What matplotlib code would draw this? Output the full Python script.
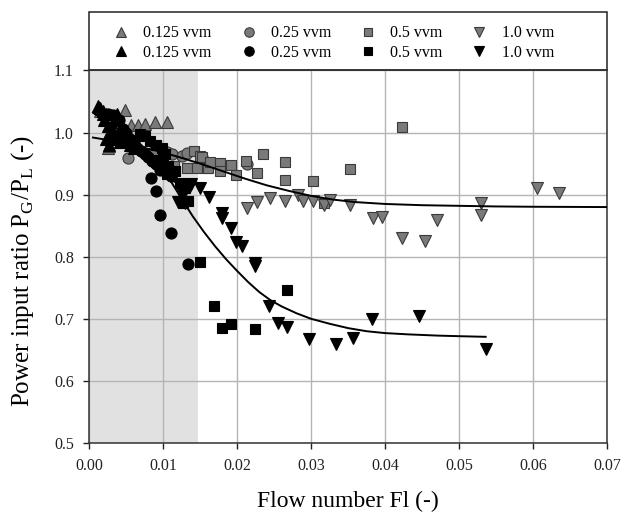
import numpy as np
import matplotlib.pyplot as plt
from matplotlib.patches import Rectangle

# ---- data ----
tri_grey_x = [0.0015, 0.0025, 0.0026, 0.003, 0.004, 0.0048, 0.0057, 0.0066, 0.0076, 0.0089, 0.0105]
tri_grey_y = [1.035, 0.975, 0.978, 0.99, 1.0, 1.037, 1.012, 1.012, 1.014, 1.017, 1.017]

tri_black_x = [0.0012, 0.0014, 0.0018, 0.0019, 0.002, 0.0022, 0.0022, 0.0025, 0.0027, 0.0028, 0.003,
               0.0032, 0.0035, 0.0038, 0.004, 0.0042, 0.0045, 0.005, 0.0055, 0.006]
tri_black_y = [1.042, 1.04, 1.03, 1.034, 1.02, 1.03, 0.99, 1.01, 0.98, 1.0, 1.01,
               0.99, 1.02, 1.03, 1.0, 0.985, 0.995, 0.99, 0.98, 0.975]

circ_grey_x = [0.0053, 0.0087, 0.0105, 0.0112, 0.0125, 0.0132, 0.0152, 0.0213]
circ_grey_y = [0.959, 0.970, 0.968, 0.965, 0.962, 0.967, 0.961, 0.949]

circ_black_x = [0.0025, 0.0032, 0.0035, 0.004, 0.0045, 0.0045, 0.005, 0.0055, 0.006, 0.0065, 0.007,
                0.0075, 0.008, 0.0085, 0.009, 0.0095, 0.011, 0.0084, 0.009, 0.0096, 0.0111, 0.0134]
circ_black_y = [1.03, 1.028, 0.995, 1.02, 1.005, 0.985, 1.0, 0.99, 0.985, 0.975, 0.97,
                0.965, 0.96, 0.955, 0.95, 0.94, 0.93, 0.927, 0.906, 0.868, 0.839, 0.788]

sq_grey_x = [0.0114, 0.0132, 0.0141, 0.0145, 0.015, 0.0152, 0.0159, 0.0161, 0.0163, 0.0177, 0.0177,
             0.0192, 0.0199, 0.0212, 0.0227, 0.0235, 0.0264, 0.0264, 0.0303, 0.0317, 0.0352, 0.0423]
sq_grey_y = [0.946, 0.943, 0.970, 0.943, 0.962, 0.961, 0.943, 0.943, 0.952, 0.951, 0.938,
             0.947, 0.932, 0.955, 0.935, 0.965, 0.952, 0.924, 0.922, 0.886, 0.942, 1.009]

sq_black_x = [0.0068, 0.0075, 0.0082, 0.009, 0.0098, 0.0102, 0.01, 0.0107, 0.0116, 0.0105, 0.0123,
              0.013, 0.0134, 0.0127, 0.015, 0.0168, 0.0179, 0.0192, 0.0224, 0.0268]
sq_black_y = [0.998, 0.994, 0.986, 0.98, 0.975, 0.965, 0.957, 0.946, 0.938, 0.933, 0.919,
              0.91, 0.89, 0.887, 0.791, 0.72, 0.686, 0.691, 0.683, 0.747]

dtri_grey_x = [0.0213, 0.0227, 0.0244, 0.0264, 0.0282, 0.0289, 0.0303, 0.0317, 0.0325, 0.0352,
               0.0384, 0.0396, 0.0423, 0.0454, 0.047, 0.0529, 0.0529, 0.0605, 0.0635]
dtri_grey_y = [0.878, 0.888, 0.895, 0.890, 0.900, 0.890, 0.889, 0.884, 0.891, 0.883,
               0.862, 0.864, 0.830, 0.825, 0.859, 0.887, 0.867, 0.911, 0.903]

dtri_black_x = [0.009, 0.0115, 0.012, 0.0127, 0.0129, 0.0136, 0.0137, 0.015, 0.0162, 0.0179, 0.0179,
                0.0191, 0.0198, 0.0206, 0.0224, 0.0224, 0.0243, 0.0255, 0.0268, 0.0297, 0.0334,
                0.0357, 0.0382, 0.0446, 0.0536]
dtri_black_y = [0.955, 0.93, 0.888, 0.9, 0.887, 0.914, 0.917, 0.911, 0.896, 0.871, 0.862,
                0.847, 0.823, 0.817, 0.79, 0.785, 0.721, 0.694, 0.687, 0.668, 0.66,
                0.669, 0.70, 0.704, 0.652]

# trend curves
fit_hi_x = [0.0005, 0.003, 0.006, 0.009, 0.012, 0.015, 0.018, 0.021, 0.024, 0.027, 0.030,
            0.033, 0.036, 0.040, 0.045, 0.050, 0.055, 0.060, 0.070]
fit_hi_y = [0.992, 0.987, 0.979, 0.971, 0.961, 0.950, 0.938, 0.926, 0.915, 0.906, 0.898,
            0.892, 0.888, 0.885, 0.883, 0.882, 0.881, 0.8805, 0.880]
fit_lo_x = [0.0005, 0.002, 0.004, 0.006, 0.008, 0.0095, 0.011, 0.0125, 0.014, 0.0155, 0.017,
            0.0185, 0.020, 0.0215, 0.023, 0.0245, 0.026, 0.028, 0.030, 0.0325, 0.035, 0.0375,
            0.040, 0.043, 0.047, 0.050, 0.0536]
fit_lo_y = [1.032, 1.020, 1.005, 0.988, 0.968, 0.947, 0.922, 0.893, 0.865, 0.840, 0.817,
            0.796, 0.777, 0.759, 0.743, 0.730, 0.720, 0.709, 0.700, 0.692, 0.685, 0.680,
            0.677, 0.675, 0.673, 0.672, 0.671]

shade_end = 0.0147

plt.rcParams['font.family'] = ['Liberation Serif', 'DejaVu Serif']
plt.rcParams['mathtext.fontset'] = 'custom'
plt.rcParams['mathtext.rm'] = 'Liberation Serif'

fig = plt.figure(figsize=(6.23, 5.13), dpi=100)
ax = fig.add_axes([0.1433, 0.1365, 0.8310, 0.7261])

ax.axvspan(0, shade_end, color='#e1e1e1', zorder=0, lw=0)
ax.grid(True, color='#b4b4b4', lw=1.0, zorder=1)
ax.set_axisbelow(True)

grey_kw = dict(ls='none', mfc='#7a7a7a', mec='#3a3a3a', mew=0.8, zorder=3)
black_kw = dict(ls='none', mfc='black', mec='black', mew=0.8, zorder=4)

h1, = ax.plot(tri_grey_x, tri_grey_y, '^', ms=8, label='0.125 vvm', **grey_kw)
h2, = ax.plot(tri_black_x, tri_black_y, '^', ms=8, label='0.125 vvm', **black_kw)
h3, = ax.plot(circ_grey_x, circ_grey_y, 'o', ms=8, label='0.25 vvm', **grey_kw)
h4, = ax.plot(circ_black_x, circ_black_y, 'o', ms=8, label='0.25 vvm', **black_kw)
h5, = ax.plot(sq_grey_x, sq_grey_y, 's', ms=6.8, label='0.5 vvm', **grey_kw)
h6, = ax.plot(sq_black_x, sq_black_y, 's', ms=6.8, label='0.5 vvm', **black_kw)
h7, = ax.plot(dtri_grey_x, dtri_grey_y, 'v', ms=8, label='1.0 vvm', **grey_kw)
h8, = ax.plot(dtri_black_x, dtri_black_y, 'v', ms=8, label='1.0 vvm', **black_kw)

ax.plot(fit_hi_x, fit_hi_y, color='black', lw=1.4, zorder=5, solid_joinstyle='round')
ax.plot(fit_lo_x, fit_lo_y, color='black', lw=1.4, zorder=5, solid_joinstyle='round')

ax.set_xlim(0, 0.07)
ax.set_ylim(0.5, 1.1)
ax.set_xticks(np.arange(0, 0.0701, 0.01))
ax.set_yticks(np.arange(0.5, 1.101, 0.1))
ax.set_xticklabels(['%.2f' % v for v in ax.get_xticks()])
ax.set_yticklabels(['%.1f' % v for v in ax.get_yticks()])
ax.tick_params(direction='out', length=4, width=1, labelsize=11.5, colors='#222222', pad=7)
for s in ax.spines.values():
    s.set_color('#333333')
    s.set_linewidth(1.1)

ax.set_xlabel('Flow number Fl (-)', fontsize=17, labelpad=12)
ax.set_ylabel(r'Power input ratio P$_\mathregular{G}$/P$_\mathregular{L}$ (-)', fontsize=18)
ax.yaxis.set_label_coords(-0.103, 0.462)

# legend box above the plot area
ax.add_patch(Rectangle((0, 1), 1, 0.156, transform=ax.transAxes, fill=False,
                       ec='#222222', lw=1.1, clip_on=False))
leg = ax.legend(handles=[h1, h2, h3, h4, h5, h6, h7, h8], ncol=4, loc='center left',
                bbox_to_anchor=(0.046, 1.074), borderaxespad=0, borderpad=0,
                fontsize=11.5, frameon=False,
                handlelength=1.0, handletextpad=0.9, columnspacing=1.8, labelspacing=0.2,
                markerscale=0.85)

fig.savefig('out.png', dpi=100)
